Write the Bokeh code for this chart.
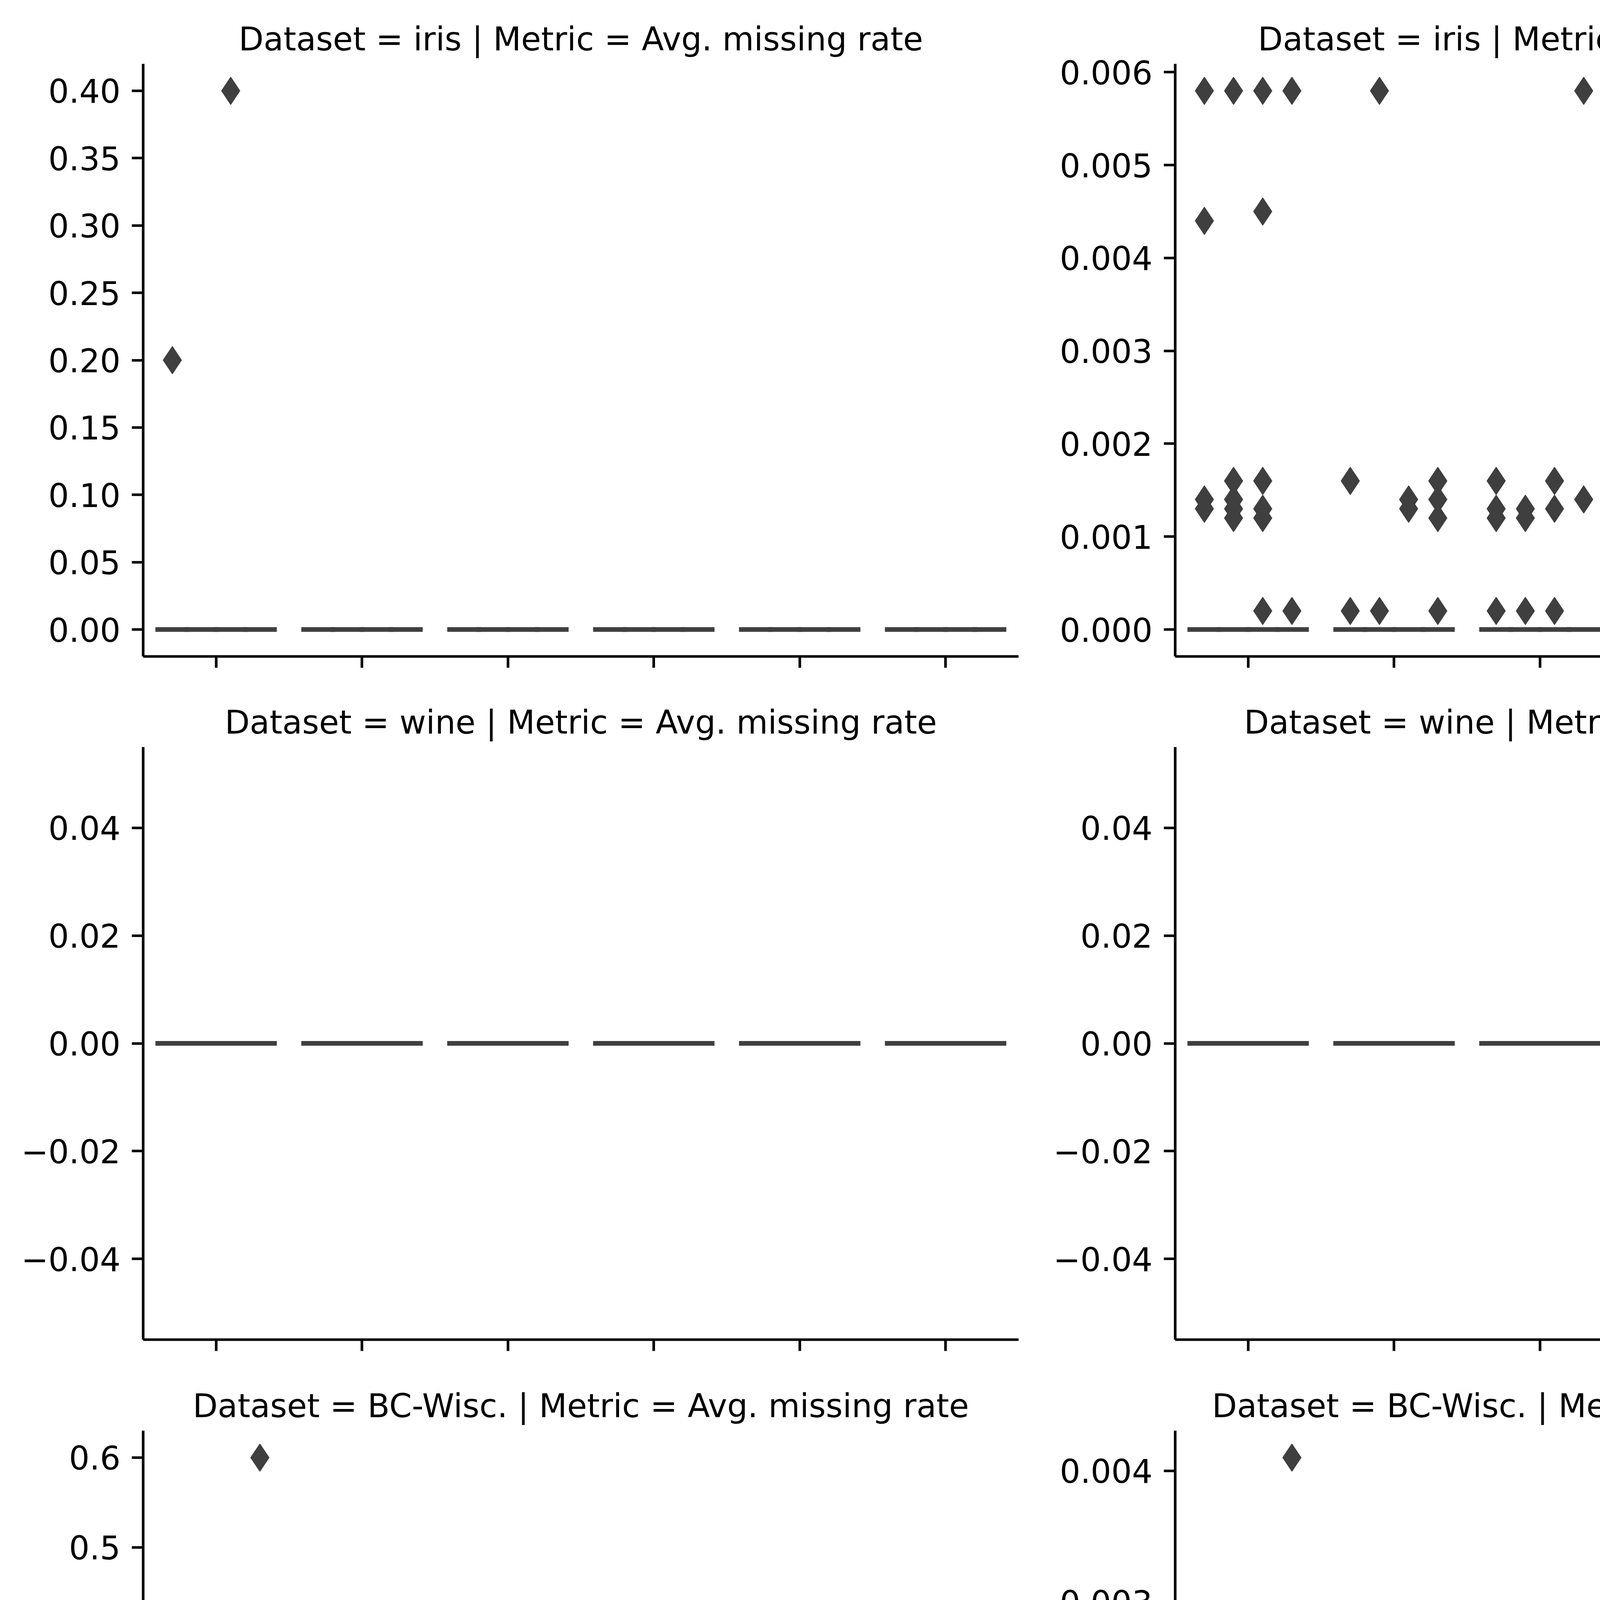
import math
from bokeh.plotting import figure
from bokeh.models import (ColumnDataSource, FactorRange, Range1d, FixedTicker,
                          Legend, LegendItem, Label)
from bokeh.transform import dodge
from bokeh.layouts import row, column
from bokeh.embed import file_html
from bokeh.resources import INLINE

# ---------------- data ----------------
categories = ["10", "20", "40", "60", "80", "100"]
methods = ["Method 1", "Method 2", "Method 3", "Method 4"]
method_colors = ["#3274a1", "#e1812c", "#3a923a", "#c03d3e"]
datasets = ["iris", "wine", "BC-Wisc.", "digits"]
metrics = ["Avg. missing rate", "Avg. distance error"]

# box medians (quartiles equal the median: every box is flat); rows = categories, cols = methods
iris_missing_median = [[0, 0, 0, 0], [0, 0, 0, 0], [0, 0, 0, 0], [0, 0, 0, 0], [0, 0, 0, 0], [0, 0, 0, 0]]
iris_dist_median = [[0, 0, 0, 0], [0, 0, 0, 0], [0, 0, 0, 0], [0, 0, 0, 0], [0, 0, 0, 0], [0, 0, 0, 0]]
wine_missing_median = [[0, 0, 0, 0], [0, 0, 0, 0], [0, 0, 0, 0], [0, 0, 0, 0], [0, 0, 0, 0], [0, 0, 0, 0]]
wine_dist_median = [[0, 0, 0, 0], [0, 0, 0, 0], [0, 0, 0, 0], [0, 0, 0, 0], [0, 0, 0, 0], [0, 0, 0, 0]]
bc_missing_median = [[0, 0, 0, 0], [0, 0, 0, 0], [0, 0, 0, 0], [0, 0, 0, 0], [0, 0, 0, 0], [0, 0, 0, 0]]
bc_dist_median = [[0, 0, 0, 0], [0, 0, 0, 0], [0, 0, 0, 0], [0, 0, 0, 0], [0, 0, 0, 0], [0, 0, 0, 0]]
digits_missing_median = [[0, 0, 0, 0], [0, 0, 0, 0], [0, 0, 0, 0], [0, 0, 0, 0], [0, 0, 0, 0], [0, 0, 0, 0]]
digits_dist_median = [[0, 0, 0, 0], [0, 0, 0, 0], [0, 0, 0, 0], [0, 0, 0, 0], [0, 0, 0, 0], [0, 0, 0, 0]]

# outliers: (category, method index, values)
iris_missing_out = [("10", 0, [0.2]), ("10", 2, [0.4])]
iris_dist_out = [
    ("10", 0, [0.0058, 0.0044, 0.0014, 0.0013]),
    ("10", 1, [0.0058, 0.0016, 0.0014, 0.0013, 0.0012]),
    ("10", 2, [0.0058, 0.0045, 0.0016, 0.0013, 0.0012, 0.0002]),
    ("10", 3, [0.0058, 0.0002]),
    ("20", 0, [0.0016, 0.0002]),
    ("20", 1, [0.0058, 0.0002]),
    ("20", 2, [0.0014, 0.0013]),
    ("20", 3, [0.0016, 0.0014, 0.0012, 0.0002]),
    ("40", 0, [0.0016, 0.0013, 0.0012, 0.0002]),
    ("40", 1, [0.0013, 0.0012, 0.0002]),
    ("40", 2, [0.0016, 0.0013, 0.0002]),
    ("40", 3, [0.0058, 0.0014]),
    ("60", 0, [0.0058, 0.0013, 0.0002]),
    ("60", 1, [0.0014, 0.0002]),
    ("60", 2, [0.0058, 0.0016, 0.0012, 0.0002]),
    ("60", 3, [0.0058, 0.0016, 0.0014, 0.0002]),
    ("80", 0, [0.0058, 0.0016, 0.0014, 0.0013, 0.0012]),
    ("80", 1, [0.0058]),
    ("80", 2, [0.0058, 0.0016, 0.0013, 0.0002]),
    ("80", 3, [0.0014, 0.0013]),
    ("100", 0, [0.0058, 0.0013, 0.0012]),
    ("100", 1, [0.0058, 0.0013, 0.0002]),
    ("100", 2, [0.0058, 0.0016, 0.0002]),
    ("100", 3, [0.0016]),
]
wine_missing_out = []
wine_dist_out = []
bc_missing_out = [
    ("10", 0, [0.2]), ("10", 1, [0.2]), ("10", 2, [0.2]), ("10", 3, [0.2, 0.6]),
    ("20", 3, [0.2]), ("40", 3, [0.2]),
]
bc_dist_out = [
    ("10", 0, [0.0003]), ("10", 1, [0.0018, 0.0007]), ("10", 2, [0.0018, 0.0001]),
    ("10", 3, [0.0041]), ("20", 3, [0.0020]), ("40", 3, [0.0020]),
]
digits_missing_out = [
    ("10", 0, [0.4, 0.2]), ("10", 1, [0.6, 0.4, 0.2]), ("10", 2, [0.8, 0.6, 0.4, 0.2]),
    ("10", 3, [0.8, 0.6, 0.4, 0.2]),
    ("20", 0, [0.4, 0.2]), ("20", 1, [0.2]), ("20", 3, [0.4, 0.2]),
    ("40", 1, [0.2]), ("40", 3, [0.4, 0.2]),
]
digits_dist_out = [
    ("10", 0, [0.0254, 0.0226, 0.0106, 0.0095, 0.0085, 0.0051, 0.0043, 0.0037, 0.0028,
               0.0020, 0.0012, 0.0007, 0.0001]),
    ("10", 1, [0.0331, 0.0288, 0.0277, 0.0232, 0.0226, 0.0220, 0.0215, 0.0211, 0.0190,
               0.0187, 0.0183, 0.0179, 0.0169, 0.0141, 0.0131, 0.0122, 0.0091, 0.0086,
               0.0081, 0.0077, 0.0051, 0.0043, 0.0039, 0.0032, 0.0026, 0.0020, 0.0014, 0.0009]),
    ("10", 2, [0.0510, 0.0456, 0.0325, 0.0264, 0.0245, 0.0206, 0.0203, 0.0200, 0.0197,
               0.0174, 0.0141, 0.0139, 0.0136, 0.0127, 0.0104, 0.0089, 0.0062, 0.0060,
               0.0057, 0.0053, 0.0051, 0.0046, 0.0043, 0.0037, 0.0026]),
    ("10", 3, [0.0687, 0.0467, 0.0199, 0.0165, 0.0155, 0.0145, 0.0138, 0.0131, 0.0124,
               0.0119, 0.0115, 0.0108, 0.0104, 0.0095, 0.0085, 0.0082, 0.0076, 0.0067,
               0.0058, 0.0051, 0.0043, 0.0037, 0.0029, 0.0020, 0.0015, 0.0002]),
    ("20", 0, [0.0419, 0.0125, 0.0044, 0.0013]),
    ("20", 1, [0.0308, 0.0198, 0.0114, 0.0102, 0.0047, 0.0025, 0.0018, 0.0013]),
    ("20", 3, [0.0114, 0.0102, 0.0085, 0.0067, 0.0053, 0.0040, 0.0027, 0.0013]),
    ("40", 1, [0.0007]),
    ("40", 3, [0.0052, 0.0019]),
]

# y tick values and labels
iris_missing_yticks = [0.0, 0.05, 0.10, 0.15, 0.20, 0.25, 0.30, 0.35, 0.40]
iris_missing_ylabels = ["0.00", "0.05", "0.10", "0.15", "0.20", "0.25", "0.30", "0.35", "0.40"]
iris_dist_yticks = [0.0, 0.001, 0.002, 0.003, 0.004, 0.005, 0.006]
iris_dist_ylabels = ["0.000", "0.001", "0.002", "0.003", "0.004", "0.005", "0.006"]
wine_yticks = [-0.04, -0.02, 0.0, 0.02, 0.04]
wine_ylabels = ["\u22120.04", "\u22120.02", "0.00", "0.02", "0.04"]
bc_missing_yticks = [0.0, 0.1, 0.2, 0.3, 0.4, 0.5, 0.6]
bc_missing_ylabels = ["0.0", "0.1", "0.2", "0.3", "0.4", "0.5", "0.6"]
bc_dist_yticks = [0.0, 0.001, 0.002, 0.003, 0.004]
bc_dist_ylabels = ["0.000", "0.001", "0.002", "0.003", "0.004"]
digits_missing_yticks = [0.0, 0.1, 0.2, 0.3, 0.4, 0.5, 0.6, 0.7, 0.8]
digits_missing_ylabels = ["0.0", "0.1", "0.2", "0.3", "0.4", "0.5", "0.6", "0.7", "0.8"]
digits_dist_yticks = [0.0, 0.01, 0.02, 0.03, 0.04, 0.05, 0.06, 0.07]
digits_dist_ylabels = ["0.00", "0.01", "0.02", "0.03", "0.04", "0.05", "0.06", "0.07"]

x_label = "Number of trees"
legend_title = "Method"

# ---------------- style / layout ----------------
FONT = "DejaVu Sans"
FS = "83px"
DARK = "#3f3f3f"
AX_LW = 6.7
TICK = 29
HUE_OFF = [-0.3, -0.1, 0.1, 0.3]
HUE_W = 0.2
FRAME_W, FRAME_H = 2241, 1517
BORDER_TOP = [163, 162, 162, 162]
BORDER_BOTTOM = [70, 71, 71, 372]
BORDER_RIGHT = [35, 33]


def style_axis(ax):
    ax.axis_line_width = AX_LW
    ax.axis_line_color = "black"
    ax.major_tick_line_width = AX_LW
    ax.major_tick_line_color = "black"
    ax.major_tick_out = TICK
    ax.major_tick_in = 0
    ax.minor_tick_out = 0
    ax.minor_tick_in = 0
    ax.major_label_text_font = FONT
    ax.major_label_text_font_size = FS
    ax.major_label_text_color = "black"
    ax.major_label_standoff = 29


def make_panel(r, c, medians, outliers, yticks, ylabels):
    vals = [v for (_, _, vs) in outliers for v in vs] + [m for mr in medians for m in mr]
    lo, hi = min(vals), max(vals)
    if hi == lo:
        y0, y1 = lo - 0.055, hi + 0.055
    else:
        pad = 0.05 * (hi - lo)
        y0, y1 = lo - pad, hi + pad
    title = f"Dataset = {datasets[r]} | Metric = {metrics[c]}"
    p = figure(x_range=FactorRange(factors=categories), y_range=Range1d(y0, y1),
               frame_width=FRAME_W, frame_height=FRAME_H,
               min_border_left=366, min_border_right=BORDER_RIGHT[c],
               min_border_top=BORDER_TOP[r], min_border_bottom=BORDER_BOTTOM[r],
               output_backend="svg", toolbar_location=None, title=title)
    p.outline_line_color = None
    p.xgrid.visible = False
    p.ygrid.visible = False
    p.background_fill_color = "white"
    p.title.align = "center"
    p.title.text_font = FONT
    p.title.text_font_size = FS
    p.title.text_font_style = "normal"
    p.title.text_color = "black"
    p.title.standoff = 30

    # flat boxes: quartile box and median line of each method
    for j in range(len(methods)):
        med = [medians[i][j] for i in range(len(categories))]
        src = ColumnDataSource(dict(cat=categories, med=med))
        p.segment(x0=dodge("cat", HUE_OFF[j] - HUE_W / 2, range=p.x_range), y0="med",
                  x1=dodge("cat", HUE_OFF[j] + HUE_W / 2, range=p.x_range), y1="med",
                  source=src, line_color=DARK, line_width=12, line_cap="square")
    # fliers
    for j in range(len(methods)):
        cats, vs = [], []
        for (cat, mj, values) in outliers:
            if mj == j:
                cats += [cat] * len(values)
                vs += values
        if not vs:
            continue
        src = ColumnDataSource(dict(cat=cats, val=vs))
        p.scatter(x=dodge("cat", HUE_OFF[j], range=p.x_range), y="val", source=src,
                  marker="diamond", size=70, fill_color=DARK, line_color=DARK, line_width=2)

    ya = p.yaxis[0]
    style_axis(ya)
    ya.ticker = FixedTicker(ticks=yticks, minor_ticks=[])
    ya.major_label_overrides = {t: l for t, l in zip(yticks, ylabels)}
    xa = p.xaxis[0]
    style_axis(xa)
    if r < 3:
        # shared x axis: ticks only, labels shown on the bottom row
        xa.major_label_overrides = {cat: "" for cat in categories}
        xa.major_label_text_color = None
        xa.major_label_standoff = -90
    else:
        xa.major_label_orientation = math.pi / 6
        xa.major_label_standoff = 73
        xa.axis_label = x_label
        xa.axis_label_text_font = FONT
        xa.axis_label_text_font_size = FS
        xa.axis_label_text_font_style = "normal"
        xa.axis_label_text_color = "black"
        xa.axis_label_standoff = 0
    return p


panels = [
    (iris_missing_median, iris_missing_out, iris_missing_yticks, iris_missing_ylabels,
     iris_dist_median, iris_dist_out, iris_dist_yticks, iris_dist_ylabels),
    (wine_missing_median, wine_missing_out, wine_yticks, wine_ylabels,
     wine_dist_median, wine_dist_out, wine_yticks, wine_ylabels),
    (bc_missing_median, bc_missing_out, bc_missing_yticks, bc_missing_ylabels,
     bc_dist_median, bc_dist_out, bc_dist_yticks, bc_dist_ylabels),
    (digits_missing_median, digits_missing_out, digits_missing_yticks, digits_missing_ylabels,
     digits_dist_median, digits_dist_out, digits_dist_yticks, digits_dist_ylabels),
]

left, right = [], []
for r, pr in enumerate(panels):
    left.append(make_panel(r, 0, pr[0], pr[1], pr[2], pr[3]))
    right.append(make_panel(r, 1, pr[4], pr[5], pr[6], pr[7]))

# ---------------- legend ----------------
LEG_W, LEG_H = 730, 7301
lf = figure(width=LEG_W, height=LEG_H, x_range=Range1d(0, 1), y_range=Range1d(0, 1),
            x_axis_type=None, y_axis_type=None, toolbar_location=None,
            output_backend="svg", min_border=0)
lf.outline_line_color = None
items = []
for j, m in enumerate(methods):
    # legend-only renderer: its single point lies outside the visible range
    rr = lf.rect(x=[-10], y=[-10], width=1, height=1, fill_color=method_colors[j],
                 line_color=DARK, line_width=6)
    items.append(LegendItem(label=m, renderers=[rr]))
leg = Legend(items=items, location=(16, 3364), padding=0, margin=0, spacing=26,
             glyph_width=212, glyph_height=76, label_standoff=49,
             label_text_font=FONT, label_text_font_size=FS, label_text_color="black",
             border_line_color=None, background_fill_alpha=0)
lf.add_layout(leg, "center")
lf.add_layout(Label(x=348, y=LEG_H - 3405, x_units="screen", y_units="screen",
                    text=legend_title, text_align="center", text_baseline="alphabetic",
                    text_font=FONT, text_font_size=FS, text_color="black"))

layout = row(column(*left), column(*right), lf)
open("out.html", "w").write(file_html(layout, INLINE))
